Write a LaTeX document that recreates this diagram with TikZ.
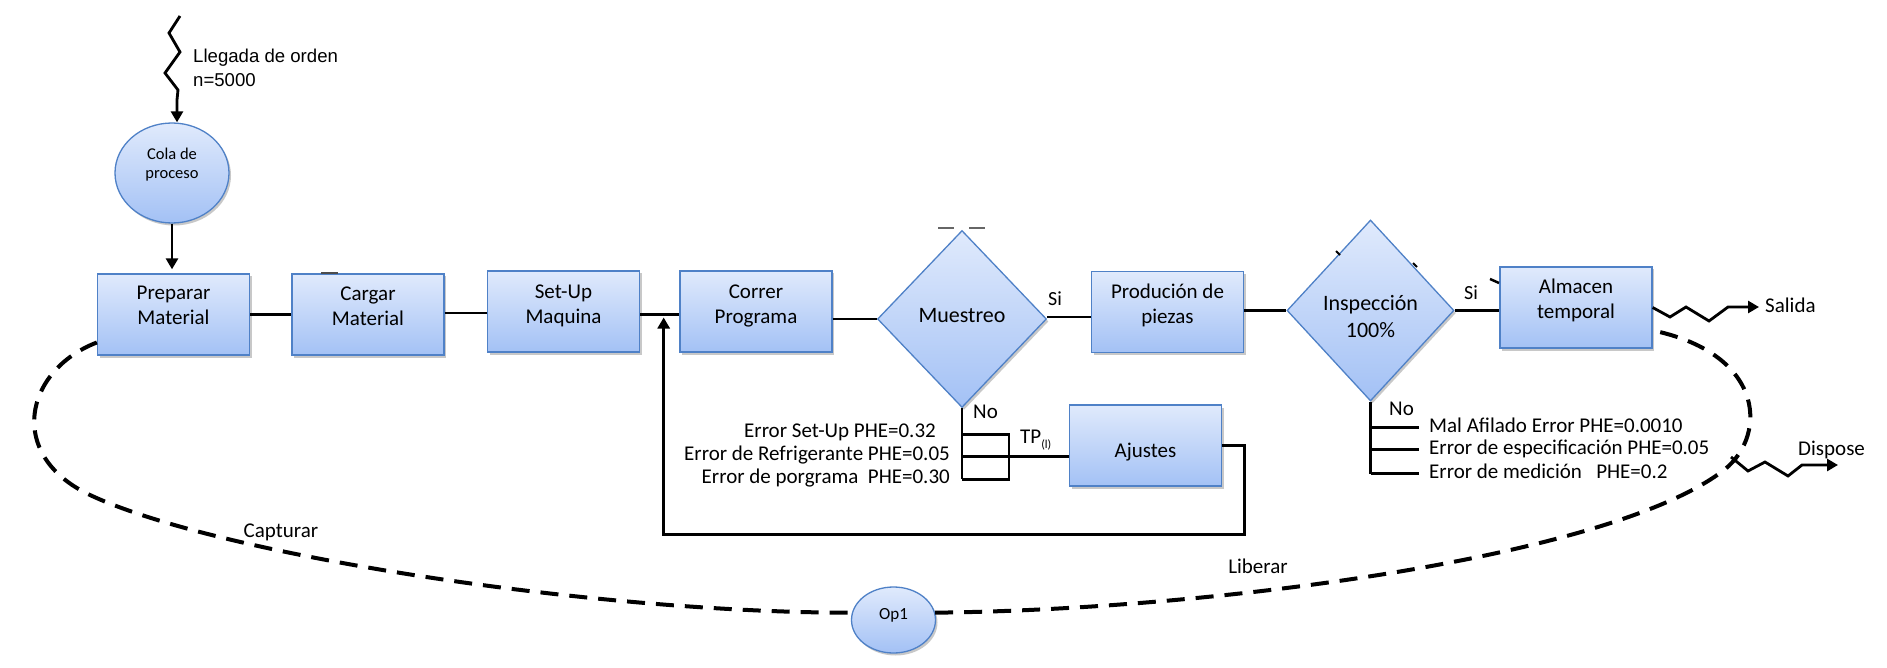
\documentclass[tikz,border=0pt]{standalone}
\usepackage{fontspec}
\setmainfont{Carlito}
\newfontfamily\arialf{Liberation Sans}
\usetikzlibrary{arrows.meta,shapes.geometric,shadows,calc}
\definecolor{boxtop}{HTML}{E0EAFC}
\definecolor{boxbot}{HTML}{A3C1F5}
\definecolor{boxline}{HTML}{4F81C7}
\begin{document}
\begin{tikzpicture}[x=1pt,y=-1pt,
  shapebase/.style={draw=boxline, line width=1.3pt, top color=boxtop, bottom color=boxbot, inner sep=0pt,
    drop shadow={shadow xshift=2pt, shadow yshift=-2.5pt, opacity=0.3, fill=black!70}},
  proc/.style={shapebase, rectangle, minimum width=152pt, minimum height=81pt},
  decis/.style={shapebase, diamond, minimum width=169pt, minimum height=177pt},
  ovalnode/.style={shapebase, ellipse},
  boxtxt/.style={font=\fontsize{21}{25}\selectfont, align=center, inner sep=0pt,
    execute at begin node=\strut, execute at end node=\strut},
  lbl/.style={font=\fontsize{21}{25}\selectfont, inner sep=0pt, text height=15pt, text depth=4pt},
  conn/.style={line width=2.8pt, black},
  arr/.style={conn, -{Triangle[length=11pt,width=12pt]}},
  dashline/.style={line width=4pt, black, dash pattern=on 18pt off 11pt},
]
\fill[white] (0,0) rectangle (1887,668);
\useasboundingbox (0,0) rectangle (1887,668);

% ---- shapes ----
\node[ovalnode, minimum width=114pt, minimum height=100pt] (cola) at (172,173) {};
\node[proc] (prep) at (173.5,314.5) {};
\node[proc] (cargar) at (368,314.5) {};
\node[proc] (setup) at (563.5,311.5) {};
\node[proc] (correr) at (756,311.5) {};
\node[decis] (muestreo) at (962,319) {};
\node[proc] (produc) at (1167.5,312) {};
\node[decis, minimum width=167pt, minimum height=181pt] (insp) at (1370.5,310.5) {};
\node[proc] (almacen) at (1576,307.5) {};
\node[proc] (ajustes) at (1145.5,445.5) {};
\node[ovalnode, minimum width=84pt, minimum height=66pt] (op1) at (893.5,620) {};

% ---- texts in shapes ----
\node[boxtxt, font=\fontsize{16.5}{19}\selectfont] (cola-t) at (172,166.5) {Cola de\\proceso};
\node[boxtxt] (prep-t) at (173.5,309.5) {Preparar\\Material};
\node[boxtxt] (cargar-t) at (368,309.5) {Cargar\\Material};
\node[boxtxt] (setup-t) at (563.5,307.5) {Set-Up\\Maquina};
\node[boxtxt] (correr-t) at (756,307.5) {Correr\\Programa};
\node[boxtxt, font=\fontsize{22}{25}\selectfont] (muestreo-t) at (962,317) {Muestreo};
\node[boxtxt] (produc-t) at (1167.5,307.5) {Produción de\\piezas};
\node[boxtxt, font=\fontsize{22}{27}\selectfont] (insp-t) at (1370.5,320.5) {Inspección\\100\%};
\node[boxtxt] (almacen-t) at (1576,302.5) {Almacen\\temporal};
\node[boxtxt] (ajustes-t) at (1145.5,452) {Ajustes};
\node[boxtxt, font=\fontsize{17}{20}\selectfont] (op1-t) at (893.5,615) {Op1};

% ---- arrival ----
\coordinate (arrstart) at (180,16);
\draw[arr, line join=miter] (arrstart) -- (169,33) -- (180,52) -- (165,73) -- (178,90) -- (177,100) -- ([xshift=5pt]cola.north);
\node[font=\arialf\fontsize{18.6}{24}\selectfont, align=left, anchor=west, inner sep=0pt] (llegada) at (193,68) {Llegada de orden\\n=5000};
\draw[arr, shorten >=4pt] (cola.south) -- (cola.south |- prep.north);

% ---- main chain ----
\draw[conn] (prep.east) -- (cargar.west);
\draw[conn] ([yshift=1.5pt]cargar.east) -- ([yshift=1.5pt]cargar.east -| setup.west);
\draw[conn] ([yshift=-3pt]setup.east) -- ([yshift=-3pt]setup.east -| correr.west);
\draw[conn] (correr.east |- muestreo.west) -- (muestreo.west);
\draw[conn] ([yshift=2pt]muestreo.east) -- ([yshift=2pt]muestreo.east -| produc.west);
\draw[conn] (produc.east |- insp.west) -- (insp.west);
\draw[conn] (insp.east) -- (insp.east -| almacen.west);
\node[lbl, font=\fontsize{20}{24}\selectfont] (si1) at (1055,300) {Si};
\node[lbl, font=\fontsize{20}{24}\selectfont] (si2) at (1471,294) {Si};

% ---- Muestreo No branch ----
\draw[conn] (muestreo.south) -- ++(0,71);
\draw[conn] ($(muestreo.south)+(0,26)$) -- ++(47,0) -- ++(0,45) -- ++(-47,0);
\coordinate (mmid) at ($(muestreo.south)+(0,48)$);
\draw[conn] (mmid) -- (mmid -| ajustes.west);
\node[lbl, anchor=west] (no1) at (973,413) {No};
\node[lbl, anchor=west] (tp) at (1020,438) {TP\raisebox{-5pt}{\fontsize{12}{12}\selectfont(l)}};
\node[lbl, anchor=east] (e1) at (936,432) {Error Set-Up PHE=0.32};
\node[lbl, anchor=east] (e2) at (950,455) {Error de Refrigerante PHE=0.05};
\node[lbl, anchor=east] (e3) at (950,478) {Error de porgrama\ \ PHE=0.30};

% ---- feedback from Ajustes ----
\coordinate (fbend) at ($(setup.east)!0.6!(correr.west)$);
\draw[arr, shorten >=6pt] (ajustes.east) -- ++(22,0) -- ++(0,89) -| (fbend);

% ---- Inspeccion No branch ----
\draw[conn] (insp.south) -- ++(0,72);
\draw[conn] ($(insp.south)+(0,26)$) -- ++(48,0);
\draw[conn] ($(insp.south)+(0,48)$) -- ++(48,0);
\draw[conn] ($(insp.south)+(0,72)$) -- ++(48,0);
\node[lbl, anchor=west] (no2) at (1389,410) {No};
\node[lbl, anchor=west] (i1) at (1429,427) {Mal Afilado Error PHE=0.0010};
\node[lbl, anchor=west] (i2) at (1429,449) {Error de especificación PHE=0.05};
\node[lbl, anchor=west] (i3) at (1429,473) {Error de medición\ \ \ PHE=0.2};

% ---- exits ----
\node[lbl, anchor=west] (salida) at (1765,307) {Salida};
\draw[arr, line join=miter, shorten >=6pt] (almacen.east) -- (1670,317) -- (1686,307) -- (1709,321) -- (1728,307) -- (salida.west);
\node[lbl, anchor=west] (dispose) at (1798,450) {Dispose};
\coordinate (dstart) at (1731,457);
\coordinate (dend) at (1838,465);
\draw[arr, line join=miter] (dstart) -- (1748,471) -- (1765,462) -- (1788,476) -- (1802,465) -- (dend);

% ---- resource loop ----
\coordinate (capstart) at ($(prep.west)+(0,28)$);
\draw[dashline] (capstart) .. controls (25,370) and (5,455) .. (90,495) .. controls (220,556) and (600,613) .. (op1.170);
\coordinate (libend) at ($(almacen.south east)+(1,-18)$);
\draw[dashline] (op1.10) .. controls (1200,610) and (1600,560) .. (1720,473) .. controls (1768,440) and (1768,355) .. (libend);
\node[lbl] (capturar) at (281,532) {Capturar};
\node[lbl] (liberar) at (1258,568) {Liberar};

% ---- small stray marks of the original ----
\draw[line width=2pt, black!70] (321,273) -- (338,273);
\draw[line width=1.2pt, black!60] (938,228) -- (954,228) (969,228) -- (985,228);
\draw[line width=2pt] (1336,251) -- (1340,255) (1413,263) -- (1417,267);
\draw[line width=2.5pt] (1490,279) -- (1499,283);
\end{tikzpicture}
\end{document}
